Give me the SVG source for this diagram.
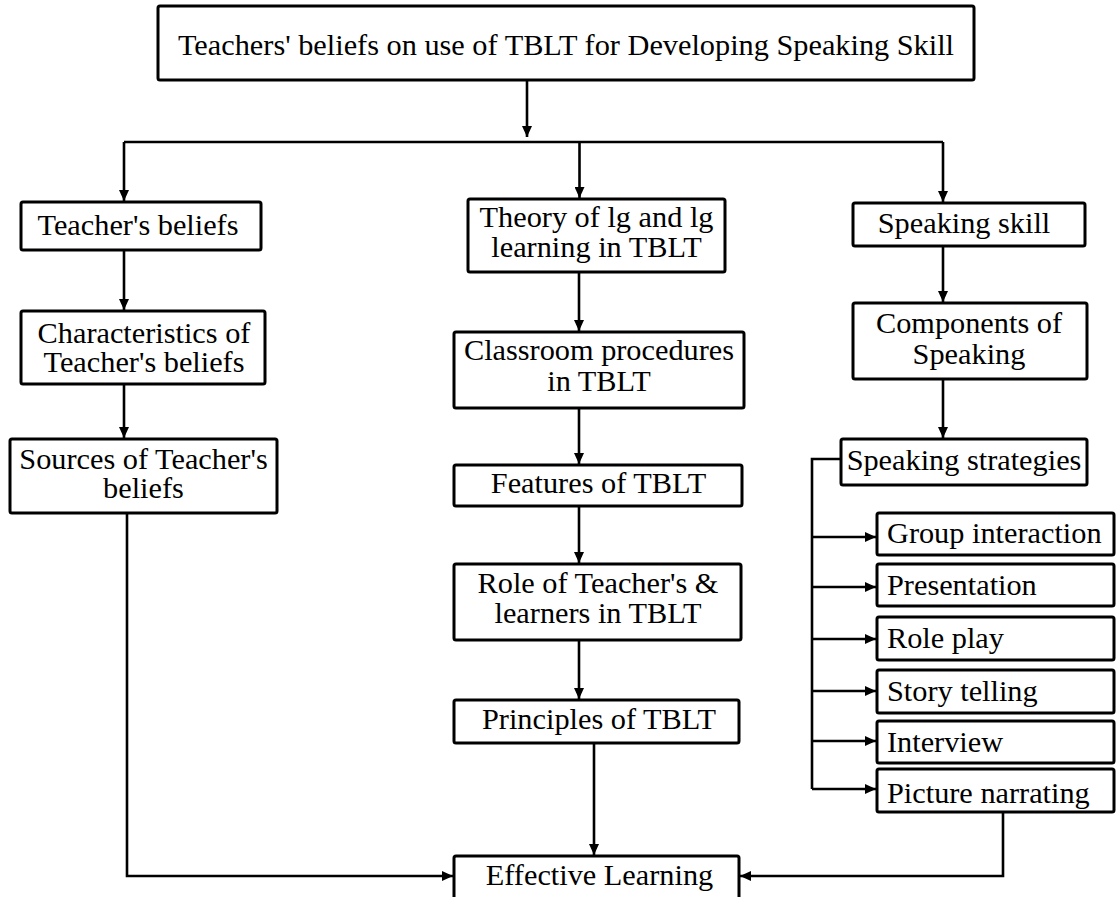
<svg xmlns="http://www.w3.org/2000/svg" width="1116" height="897" viewBox="0 0 1116 897">
<defs>
<marker id="ah" markerUnits="userSpaceOnUse" markerWidth="11" markerHeight="10" refX="11" refY="5" orient="auto">
<path d="M0,0 L11,5 L0,10 z" fill="#000"/>
</marker>
<style>
.box{fill:#fff;stroke:#000;stroke-width:3}
.t{font-family:"Liberation Serif","Times New Roman",serif;font-size:30.3px;fill:#000}
.c{text-anchor:middle}
.ln{fill:none;stroke:#000;stroke-width:2.6}
.ar{fill:none;stroke:#000;stroke-width:2.6;marker-end:url(#ah)}
</style>
</defs>
<rect width="1116" height="897" fill="#fff"/>
<g id="connectors">
<path class="ar" d="M527,80 V137"/>
<path class="ln" d="M124,142 H943"/>
<path class="ar" d="M124,142 V201"/>
<path class="ar" d="M579.5,142 V198"/>
<path class="ar" d="M943,142 V202"/>
<path class="ar" d="M124,250 V310"/>
<path class="ar" d="M124,384 V438"/>
<path class="ar" d="M127,513 V876 H453"/>
<path class="ar" d="M579,272 V331"/>
<path class="ar" d="M579,408 V464"/>
<path class="ar" d="M579,506 V563"/>
<path class="ar" d="M579,640 V699"/>
<path class="ar" d="M594,743 V855"/>
<path class="ar" d="M943,246 V302"/>
<path class="ar" d="M943,379 V438"/>
<path class="ln" d="M841,459 H812 V789"/>
<path class="ar" d="M812,537 H876"/>
<path class="ar" d="M812,587 H876"/>
<path class="ar" d="M812,639 H876"/>
<path class="ar" d="M812,691 H876"/>
<path class="ar" d="M812,741 H876"/>
<path class="ar" d="M812,789 H876"/>
<path class="ar" d="M1003,812 V876 H740"/>
</g>
<g id="n-top"><rect class="box" x="158" y="6" width="816" height="74" rx="2"/><text class="t c" x="566" y="55">Teachers' beliefs on use of TBLT for Developing Speaking Skill</text></g>
<g id="n-tb"><rect class="box" x="21" y="202" width="240" height="48" rx="2"/><text class="t c" x="138" y="235">Teacher's beliefs</text></g>
<g id="n-theory"><rect class="box" x="468" y="199" width="257" height="73" rx="2"/><text class="t c" x="596.5" y="227">Theory of lg and lg</text><text class="t c" x="596.5" y="257">learning in TBLT</text></g>
<g id="n-skill"><rect class="box" x="853" y="203" width="232" height="43" rx="2"/><text class="t c" x="964" y="233">Speaking skill</text></g>
<g id="n-char"><rect class="box" x="21" y="311" width="244" height="73" rx="2"/><text class="t c" x="144" y="343">Characteristics of</text><text class="t c" x="144" y="372">Teacher's beliefs</text></g>
<g id="n-sources"><rect class="box" x="10" y="439" width="267" height="74" rx="2"/><text class="t c" x="143.5" y="469">Sources of Teacher's</text><text class="t c" x="143.5" y="498">beliefs</text></g>
<g id="n-class"><rect class="box" x="454" y="332" width="290" height="76" rx="2"/><text class="t c" x="599" y="360">Classroom procedures</text><text class="t c" x="599" y="391">in TBLT</text></g>
<g id="n-feat"><rect class="box" x="454" y="465" width="288" height="41" rx="2"/><text class="t c" x="598.5" y="493">Features of TBLT</text></g>
<g id="n-role"><rect class="box" x="454" y="564" width="287" height="76" rx="2"/><text class="t c" x="598" y="593">Role of Teacher's &amp;</text><text class="t c" x="598" y="623">learners in TBLT</text></g>
<g id="n-princ"><rect class="box" x="454" y="700" width="285" height="43" rx="2"/><text class="t c" x="599" y="729">Principles of TBLT</text></g>
<g id="n-eff"><rect class="box" x="454" y="856" width="285" height="50" rx="2"/><text class="t c" x="599.5" y="885">Effective Learning</text></g>
<g id="n-comp"><rect class="box" x="853" y="303" width="234" height="76" rx="2"/><text class="t c" x="969" y="333">Components of</text><text class="t c" x="969" y="364">Speaking</text></g>
<g id="n-strat"><rect class="box" x="841" y="439" width="246" height="46" rx="2"/><text class="t c" x="964" y="470">Speaking strategies</text></g>
<g id="n-group"><rect class="box" x="877" y="513" width="237" height="42" rx="2"/><text class="t" x="887" y="543">Group interaction</text></g>
<g id="n-pres"><rect class="box" x="877" y="564" width="237" height="42" rx="2"/><text class="t" x="887" y="595">Presentation</text></g>
<g id="n-rp"><rect class="box" x="877" y="617" width="237" height="43" rx="2"/><text class="t" x="887" y="648">Role play</text></g>
<g id="n-story"><rect class="box" x="877" y="670" width="237" height="43" rx="2"/><text class="t" x="887" y="701">Story telling</text></g>
<g id="n-int"><rect class="box" x="877" y="721" width="237" height="42" rx="2"/><text class="t" x="887" y="752">Interview</text></g>
<g id="n-pic"><rect class="box" x="877" y="769" width="237" height="43" rx="2"/><text class="t" x="887" y="803">Picture narrating</text></g>
</svg>
